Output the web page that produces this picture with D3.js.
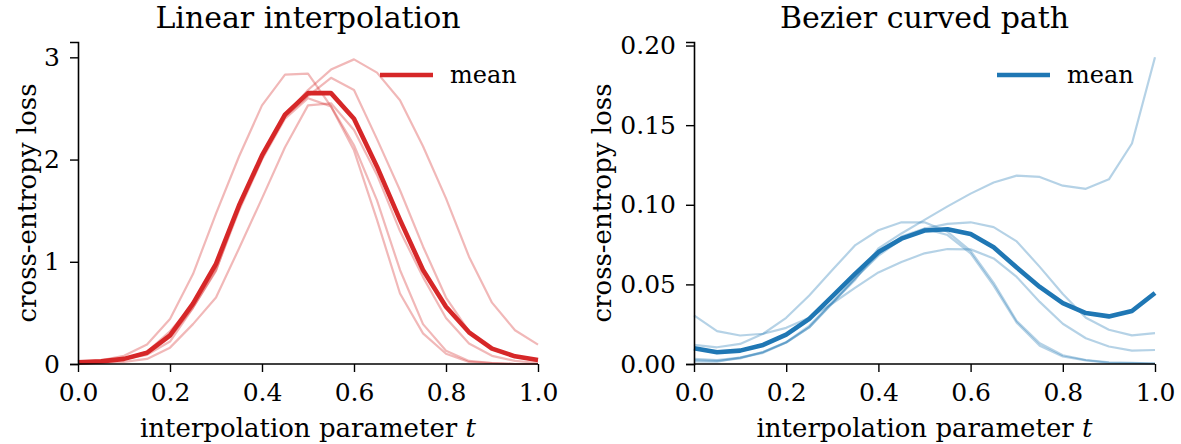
<!DOCTYPE html>
<html>
<head>
<meta charset="utf-8">
<script src="https://cdn.jsdelivr.net/npm/d3@7"></script>
<style>
  html, body { margin: 0; padding: 0; background: #fff; }
  svg { display: block; }
  text { font-family: "DejaVu Serif", serif; fill: #000; }
</style>
</head>
<body>
<svg id="chart" width="1181" height="444"></svg>
<script>
// ---------- data ----------
const tValues = [0,0.05,0.1,0.15,0.2,0.25,0.3,0.35,0.4,0.45,0.5,0.55,0.6,0.65,0.7,0.75,0.8,0.85,0.9,0.95,1.0];

// Linear interpolation: individual runs
const linRunA = [0.02,0.035,0.08,0.19,0.44,0.88,1.47,2.03,2.53,2.83,2.84,2.52,2.09,1.41,0.69,0.30,0.10,0.02,0.01,0.0,0.0];
const linRunB = [0.02,0.03,0.05,0.12,0.32,0.58,0.95,1.56,2.02,2.42,2.62,2.80,2.68,2.20,1.70,1.15,0.65,0.32,0.15,0.07,0.03];
const linRunC = [0.015,0.025,0.05,0.10,0.26,0.55,0.92,1.50,2.00,2.40,2.60,2.52,2.14,1.60,0.92,0.39,0.13,0.03,0.01,0.0,0.0];
const linRunD = [0.005,0.01,0.02,0.05,0.16,0.39,0.65,1.13,1.62,2.12,2.53,2.55,2.29,1.85,1.30,0.85,0.45,0.20,0.08,0.03,0.01];
const linRunE = [0.015,0.02,0.05,0.09,0.22,0.55,0.91,1.54,2.03,2.43,2.68,2.88,2.98,2.85,2.58,2.13,1.62,1.05,0.60,0.33,0.19];
const linMean = [0.016,0.026,0.05,0.11,0.28,0.59,0.98,1.55,2.04,2.44,2.65,2.65,2.40,1.93,1.41,0.92,0.56,0.31,0.15,0.075,0.04];

// Bezier curved path: individual runs
const bezRun1 = [0.012,0.0105,0.0126,0.019,0.029,0.043,0.059,0.0747,0.084,0.089,0.089,0.083,0.071,0.051,0.027,0.013,0.0055,0.0025,0.001,0.0008,0.0003];
const bezRun2 = [0.0025,0.002,0.0035,0.0075,0.0135,0.023,0.038,0.054,0.069,0.080,0.085,0.081,0.0695,0.0492,0.026,0.0115,0.0047,0.0023,0.0008,0.0006,0.0002];
const bezRun3 = [0.0017,0.0015,0.004,0.007,0.0135,0.023,0.0385,0.053,0.0726,0.082,0.0905,0.099,0.107,0.114,0.1183,0.1175,0.112,0.110,0.116,0.1385,0.1926];
const bezRun4 = [0.0032,0.0025,0.004,0.0075,0.0138,0.024,0.039,0.054,0.068,0.0785,0.085,0.088,0.089,0.086,0.077,0.061,0.044,0.029,0.0215,0.018,0.0194];
const bezRun5 = [0.0305,0.0206,0.0179,0.019,0.0227,0.029,0.038,0.048,0.0575,0.064,0.0695,0.0722,0.072,0.0663,0.0547,0.039,0.0253,0.0162,0.011,0.0084,0.0088];
const bezMean = [0.0099,0.0074,0.0084,0.012,0.0185,0.0284,0.0425,0.0568,0.0703,0.0787,0.0838,0.0846,0.0817,0.0733,0.0606,0.0484,0.0383,0.032,0.0299,0.0333,0.0446];

const xTicks = [0,0.2,0.4,0.6,0.8,1.0];
const linYTicks = [0,1,2,3];
const bezYTicks = [0,0.05,0.10,0.15,0.20];

const titles = ["Linear interpolation", "Bezier curved path"];
const xLabel = "interpolation parameter ";
const yLabel = "cross-entropy loss";
const legendLabel = "mean";

// ---------- layout ----------
const svg = d3.select("#chart");
const TICK_FS = 25, LABEL_FS = 26, TITLE_FS = 30, LEG_FS = 24;
const panels = [
  { left: 78, right: 538, top: 42, bottom: 364, yMax: 3.0 * 1.05, yTicks: linYTicks, yFmt: d3.format("d"),
    runs: [linRunA, linRunB, linRunC, linRunD, linRunE], mean: linMean, color: "#d62728", title: titles[0],
    ylabX: 27, legX: 380 },
  { left: 694, right: 1155, top: 42, bottom: 364, yMax: 0.1926 * 1.05, yTicks: bezYTicks, yFmt: d3.format(".2f"),
    runs: [bezRun1, bezRun2, bezRun3, bezRun4, bezRun5], mean: bezMean, color: "#1f77b4", title: titles[1],
    ylabX: 602, legX: 997 }
];

panels.forEach(p => {
  const x = d3.scaleLinear().domain([0, 1]).range([p.left, p.right]);
  const y = d3.scaleLinear().domain([0, p.yMax]).range([p.bottom, p.top]);
  const g = svg.append("g");

  const line = d3.line().x((d, i) => x(tValues[i])).y(d => y(d));

  p.runs.forEach(r => {
    g.append("path").datum(r).attr("d", line)
      .attr("fill", "none").attr("stroke", p.color).attr("stroke-opacity", 0.33)
      .attr("stroke-width", 2.2).attr("stroke-linejoin", "round");
  });
  g.append("path").datum(p.mean).attr("d", line)
    .attr("fill", "none").attr("stroke", p.color)
    .attr("stroke-width", 4.6).attr("stroke-linejoin", "round");

  const xAxis = d3.axisBottom(x).tickValues(xTicks).tickFormat(d3.format(".1f")).tickSizeOuter(0).tickSize(8).tickPadding(11);
  const gx = g.append("g").attr("transform", `translate(0,${p.bottom})`).call(xAxis);
  const yAxis = d3.axisLeft(y).tickValues(p.yTicks).tickFormat(p.yFmt).tickSizeOuter(0).tickSize(8).tickPadding(10);
  const gy = g.append("g").attr("transform", `translate(${p.left},0)`).call(yAxis);

  [gx, gy].forEach(a => {
    a.select(".domain").attr("stroke", "#000").attr("stroke-width", 1.6);
    a.selectAll(".tick line").attr("stroke", "#000").attr("stroke-width", 1.4);
    a.selectAll(".tick text").attr("font-family", "DejaVu Serif").attr("font-size", TICK_FS).attr("fill", "#000");
  });
  gx.selectAll(".tick text").attr("dy", "0.72em");
  gx.select(".domain").attr("d", `M${p.left},0H${p.right}`);

  svg.append("text").attr("x", (p.left + p.right) / 2).attr("y", 28)
    .attr("text-anchor", "middle").attr("font-size", TITLE_FS).text(p.title);
  const xl = svg.append("text").attr("x", (p.left + p.right) / 2).attr("y", 437)
    .attr("text-anchor", "middle").attr("font-size", LABEL_FS);
  xl.append("tspan").text(xLabel);
  xl.append("tspan").attr("font-style", "italic").text("t");
  svg.append("text").attr("transform", `translate(${p.ylabX},${(p.top + p.bottom) / 2}) rotate(-90)`)
    .attr("text-anchor", "middle").attr("dominant-baseline", "central").attr("font-size", LABEL_FS).text(yLabel);

  svg.append("line").attr("x1", p.legX).attr("x2", p.legX + 53).attr("y1", 75).attr("y2", 75)
    .attr("stroke", p.color).attr("stroke-width", 4.6);
  svg.append("text").attr("x", p.legX + 70).attr("y", 83).attr("font-size", LEG_FS).text(legendLabel);
});
</script>
</body>
</html>
